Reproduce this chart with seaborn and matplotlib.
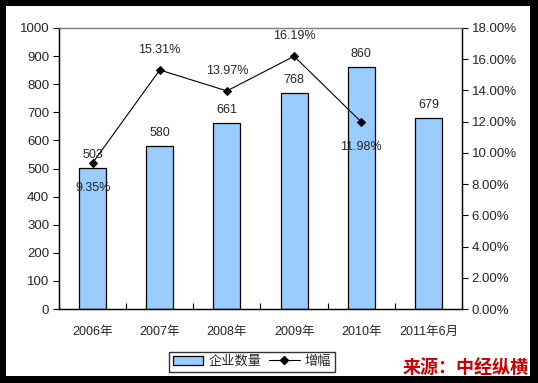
import numpy as np
import seaborn as sns
import matplotlib
matplotlib.use('Agg')
import matplotlib.pyplot as plt
from matplotlib.patches import Rectangle, Patch
from matplotlib.lines import Line2D
from matplotlib.ticker import FuncFormatter, MultipleLocator

# data
years = ['2006年', '2007年', '2008年', '2009年', '2010年', '2011年6月']
counts = [503, 580, 661, 768, 860, 679]
growth = [9.35, 15.31, 13.97, 16.19, 11.98]
growth_pos = ['below', 'above', 'above', 'above', 'below']

sns.set_style('white')
plt.rcParams['font.family'] = ['Liberation Sans', 'Noto Sans CJK SC', 'DejaVu Sans']
plt.rcParams['font.size'] = 8.5

fig = plt.figure(figsize=(5.38, 3.83), dpi=100, facecolor='black')
# white inner panel inside the thick black frame
fig.patches.append(Rectangle((6/538, 7/383), 524/538, 370/383, transform=fig.transFigure,
                             facecolor='white', edgecolor='none', zorder=-5))

ax = fig.add_axes([59/538, 74/383, 403/538, 281/383])
ax.set_facecolor('none')
sns.barplot(x=years, y=counts, color='#99CCFF', edgecolor='black', linewidth=0.9,
            width=0.4, saturation=1, ax=ax)
ax.set_ylim(0, 1000)
ax.set_xlim(-0.5, 5.5)
ax.yaxis.set_major_locator(MultipleLocator(100))
for i, v in enumerate(counts):
    ax.text(i, v + 25, str(v), ha='center', va='bottom', fontsize=9)

ax2 = ax.twinx()
sns.lineplot(x=np.arange(len(growth)), y=growth, color='black', linewidth=0.8,
             marker='D', markersize=4.5, markeredgecolor='black', ax=ax2)
ax2.set_ylim(0, 18)
ax2.yaxis.set_major_locator(MultipleLocator(2))
ax2.yaxis.set_major_formatter(FuncFormatter(lambda v, p: f'{v:.2f}%'))
for i, (g, pos) in enumerate(zip(growth, growth_pos)):
    if pos == 'above':
        ax2.text(i, g + 0.9, f'{g:.2f}%', ha='center', va='bottom', fontsize=9)
    else:
        ax2.text(i, g - 1.2, f'{g:.2f}%', ha='center', va='top', fontsize=9)

for a in (ax, ax2):
    for s in a.spines.values():
        s.set_color('black')
        s.set_linewidth(0.9)
    a.spines['top'].set_color('#808080')
    a.set_xlabel('')
    a.set_ylabel('')

ax.tick_params(axis='y', direction='out', length=4, width=0.8, color='black', left=True, labelsize=9.5, pad=3)
ax2.tick_params(axis='y', direction='out', length=4, width=0.8, color='black', right=True, labelsize=9.5, pad=3)
ax.tick_params(axis='x', bottom=False, labelsize=9, pad=9)
ax.set_xticks(np.arange(-0.5, 6, 1), minor=True)
ax.tick_params(axis='x', which='minor', direction='in', length=4, width=0.8, color='black', bottom=True)

handles = [Patch(facecolor='#99CCFF', edgecolor='black', linewidth=0.9, label='企业数量'),
           Line2D([0], [0], color='black', linewidth=0.8, marker='D', markersize=4, label='增幅')]
leg = fig.legend(handles=handles, loc='lower center', bbox_to_anchor=(252/538, 11/383), ncol=2,
                 frameon=True, fancybox=False, edgecolor='black', fontsize=9.5,
                 handlelength=2.3, handletextpad=0.4, columnspacing=0.6, borderpad=0.3,
                 borderaxespad=0)
leg.get_frame().set_linewidth(1.0)

fig.text(529/538, 14/383, '来源：中经纵横', ha='right', va='center', color='#CC0000',
         fontsize=13, fontweight='bold', style='italic')

fig.savefig('out.png', dpi=100, facecolor='black')
